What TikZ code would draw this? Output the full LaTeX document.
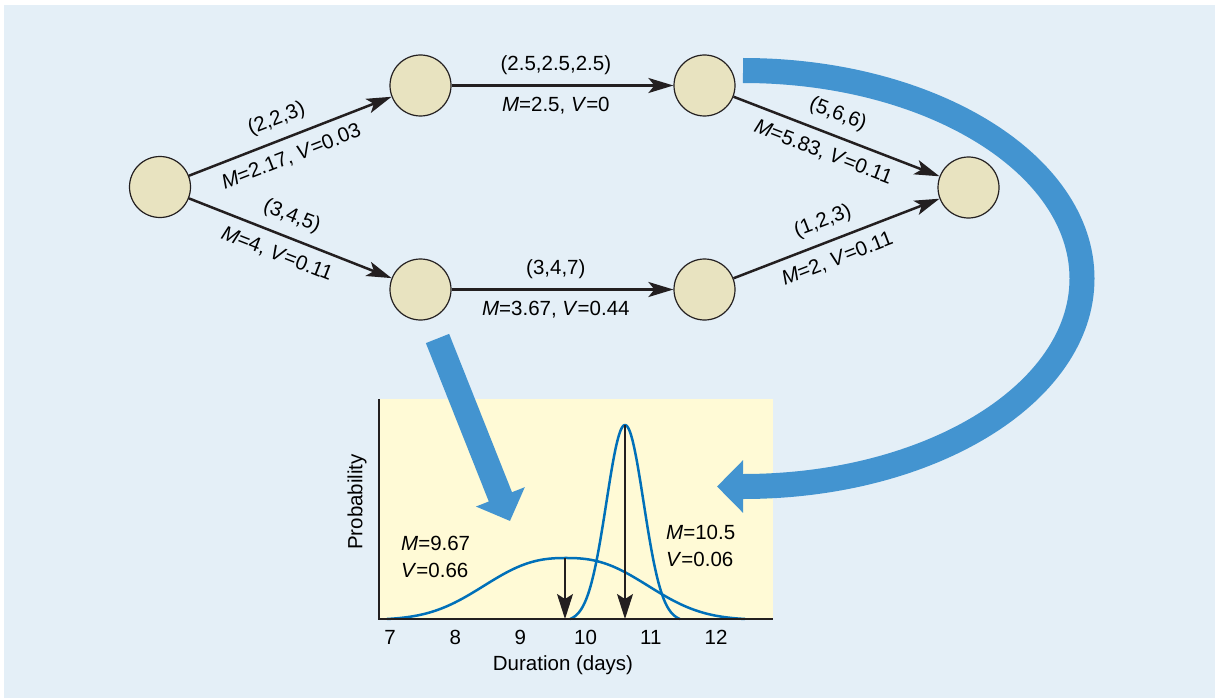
\documentclass[tikz,border=0pt]{standalone}
\usepackage{fontspec}
\setmainfont{Liberation Sans}
\usetikzlibrary{arrows.meta}
\definecolor{bgblue}{RGB}{228,239,247}
\definecolor{chartyellow}{RGB}{255,250,214}
\definecolor{eventfill}{RGB}{232,227,192}
\definecolor{flowblue}{RGB}{67,148,208}
\definecolor{curveblue}{RGB}{0,112,185}
\definecolor{inkdark}{RGB}{35,31,32}
\newcommand\lblfont{\fontsize{20.5}{27}\selectfont}

\tikzset{
  event/.style={circle, draw=inkdark, line width=1.2pt, fill=eventfill, minimum size=61pt, inner sep=0pt},
  activity/.style={draw=inkdark, line width=2.5pt, -{Stealth[length=25pt, width=15pt, inset=6pt]}},
  lbl/.style={font=\lblfont, sloped, inner sep=10pt, pos=0.47},
  flow/.style={draw=flowblue, line width=25pt, -{Triangle[length=26pt, width=51pt]}},
  dist/.style={draw=curveblue, line width=2.5pt, smooth},
  meanline/.style={draw=inkdark, line width=1.3pt, -{Stealth[length=25pt, width=16pt, inset=5pt]}}
}

\begin{document}
\begin{tikzpicture}[x=1pt, y=-1pt, font=\lblfont]
  \useasboundingbox (0,0) rectangle (1215,698);
  \fill[bgblue] (4,5) rectangle (1215,698);

  \node[event] (start) at (160,187) {};
  \node[event] (upA) at (420.5,85.5) {};
  \node[event] (lowA) at (420.5,289.5) {};
  \node[event] (upB) at (704.5,85.5) {};
  \node[event] (lowB) at (704.5,289.5) {};
  \node[event] (finish) at (968.5,187.5) {};

  \draw[activity] (start) -- node[lbl, above] {(2,2,3)} node[lbl, below] {\textit{M}=2.17, \textit{V}=0.03} (upA);
  \draw[activity] (start) -- node[lbl, above] {(3,4,5)} node[lbl, below] {\textit{M}=4, \textit{V}=0.11} (lowA);
  \draw[activity] (upA) -- node[lbl, above] {(2.5,2.5,2.5)} node[lbl, below] {\textit{M}=2.5, \textit{V}=0} (upB);
  \draw[activity] (lowA) -- node[lbl, above] {(3,4,7)} node[lbl, below] {\textit{M}=3.67, \textit{V}=0.44} (lowB);
  \draw[activity] (upB) -- node[lbl, above] {(5,6,6)} node[lbl, below] {\textit{M}=5.83, \textit{V}=0.11} (finish);
  \draw[activity] (lowB) -- node[lbl, above] {(1,2,3)} node[lbl, below] {\textit{M}=2, \textit{V}=0.11} (finish);

  \fill[chartyellow] (379,399) rectangle (773,619);
  \draw[dist] plot[domain=387:745, samples=150] (\x,{619-61*(exp(-pow((abs(\x-566)+0.01)/101,2.5))-0.015)/0.985});
  \draw[dist] plot[domain=570:680, samples=120] (\x,{619-194*(exp(-pow((\x-625)/26.3,2))-0.0126)/0.9874});
  \draw[inkdark, line width=2.5pt] (379,399) -- (379,619) -- (773,619);

  \coordinate (peakW) at (565,558);
  \coordinate (meanW) at (565,619);
  \coordinate (peakN) at (625,425);
  \coordinate (meanN) at (625,619);
  \draw[meanline] (peakW) -- (meanW);
  \draw[meanline] (peakN) -- (meanN);

  \foreach \d in {7,...,12}
    \node (tick\d) at ({390+(\d-7)*65.2},637) {\d};
  \node[rotate=90] (ylab) at (357,502) {Probability};
  \node (xlab) at (563,665) {Duration (days)};
  \node[align=left, anchor=west, inner sep=0pt] (statW) at (401,557) {\textit{M}=9.67\\\textit{V}=0.66};
  \node[align=left, anchor=west, inner sep=0pt] (statN) at (666,546) {\textit{M}=10.5\\\textit{V}=0.06};

  \coordinate (flowAstart) at (743,70.5);
  \coordinate (flowAtip) at (717,486.5);
  \draw[flow] (flowAstart) arc[start angle=90, end angle=-90, x radius=339pt, y radius=208pt] -- (flowAtip);
  \coordinate (flowBstart) at (437.5,338.5);
  \coordinate (flowBtip) at (510,521);
  \draw[flow] (flowBstart) -- (flowBtip);
\end{tikzpicture}
\end{document}
